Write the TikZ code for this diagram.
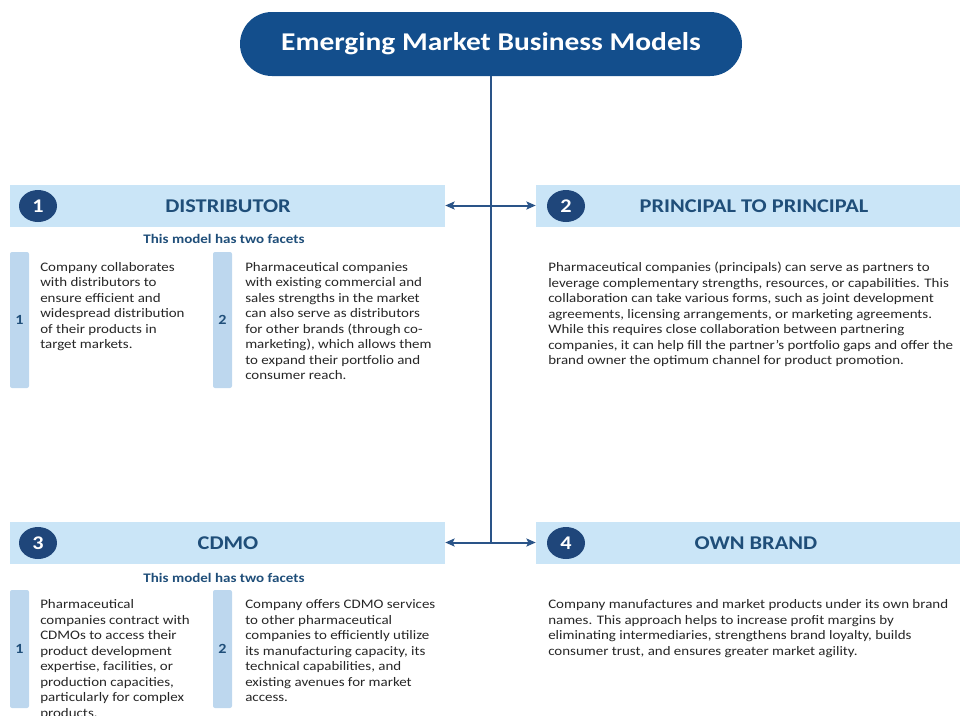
\documentclass[tikz,border=0pt]{standalone}
\usepackage{fontspec}
\setmainfont[FakeStretch=1.15]{Carlito}
\usetikzlibrary{arrows.meta,shapes.geometric}
\definecolor{titleblue}{HTML}{134E8C}
\definecolor{navy}{HTML}{1F467A}
\definecolor{headtext}{HTML}{1F4E79}
\definecolor{barblue}{HTML}{CAE5F7}
\definecolor{facetblue}{HTML}{BDD7EE}
\definecolor{linkblue}{HTML}{2A5488}
\definecolor{bodytext}{HTML}{262626}
\tikzset{
  hbar/.style={fill=barblue, draw=none, minimum height=31.5pt, inner sep=0pt},
  numcirc/.style={ellipse, fill=navy, text=white, font=\fontsize{14.5}{16}\selectfont\bfseries, minimum width=28.5pt, minimum height=24pt, inner sep=0pt},
  htext/.style={text=headtext, font=\fontsize{14.6}{16}\selectfont\bfseries, inner sep=0pt},
  facetbar/.style={fill=facetblue, rounded corners=1.5pt, draw=none},
  facetnum/.style={text=headtext, font=\fontsize{10.5}{12}\selectfont\bfseries, inner sep=0pt},
  subhead/.style={text=headtext, font=\fontsize{9.8}{11}\selectfont\bfseries, inner sep=0pt},
  body/.style={text=bodytext, font=\fontsize{9.75}{11.6}\selectfont, align=left, anchor=north west, inner sep=0pt},
  link/.style={draw=linkblue, line width=2pt},
  dlink/.style={draw=linkblue, line width=1.5pt, {Stealth[length=7pt,width=6pt,inset=1.5pt]}-{Stealth[length=7pt,width=6pt,inset=1.5pt]}},
}
\begin{document}
\begin{tikzpicture}[x=0.75pt,y=-0.75pt]
\useasboundingbox (0,0) rectangle (960,715);
% title
\node[fill=titleblue, rounded corners=24pt, minimum width=376.5pt, minimum height=48pt, inner sep=0pt,
  text=white, font=\fontsize{19.2}{22}\selectfont\bfseries] (title) at (491,44) {Emerging Market Business Models};
% header bars
\node[hbar, minimum width=326.25pt] (h1) at (227.5,205.5) {};
\node[hbar, minimum width=318pt] (h2) at (748,205.5) {};
\node[hbar, minimum width=326.25pt] (h3) at (227.5,542.5) {};
\node[hbar, minimum width=318pt] (h4) at (748,542.5) {};
% circles
\node[numcirc] (c1) at (38,206) {1};
\node[numcirc] (c2) at (566,206) {2};
\node[numcirc] (c3) at (38,543) {3};
\node[numcirc] (c4) at (566,543) {4};
% header texts
\node[htext] (t1) at (228,206) {DISTRIBUTOR};
\node[htext] (t2) at (754,206) {PRINCIPAL TO PRINCIPAL};
\node[htext] (t3) at (228,543) {CDMO};
\node[htext] (t4) at (756,543) {OWN BRAND};
% connectors
\coordinate (j2) at (491,543);
\draw[link] (title.south) -- (j2);
\draw[dlink] (h1.east) -- (h2.west);
\draw[dlink] (h3.east) -- (h4.west);
% distributor facets
\node[subhead] (s1) at (224,239) {This model has two facets};
\node[facetbar, minimum width=14.25pt, minimum height=102pt, inner sep=0pt] (f11) at (19.5,320) {};
\node[facetbar, minimum width=14.25pt, minimum height=102pt, inner sep=0pt] (f12) at (222.5,320) {};
\node[facetnum] at (f11) {1};
\node[facetnum] at (f12) {2};
\node[body] (d1) at (40,262) {Company collaborates\\with distributors to\\ensure efficient and\\widespread distribution\\of their products in\\target markets.};
\node[body] (d2) at (245,262) {Pharmaceutical companies\\with existing commercial and\\sales strengths in the market\\can also serve as distributors\\for other brands (through co-\\marketing), which allows them\\to expand their portfolio and\\consumer reach.};
% principal to principal
\node[body] (p1) at (548,262) {Pharmaceutical companies (principals) can serve as partners to\\leverage complementary strengths, resources, or capabilities. This\\collaboration can take various forms, such as joint development\\agreements, licensing arrangements, or marketing agreements.\\While this requires close collaboration between partnering\\companies, it can help fill the partner’s portfolio gaps and offer the\\brand owner the optimum channel for product promotion.};
% CDMO facets
\node[subhead] (s3) at (224,578) {This model has two facets};
\node[facetbar, minimum width=14.25pt, minimum height=88.5pt, inner sep=0pt] (f31) at (19.5,649) {};
\node[facetbar, minimum width=14.25pt, minimum height=88.5pt, inner sep=0pt] (f32) at (222.5,649) {};
\node[facetnum] at (f31) {1};
\node[facetnum] at (f32) {2};
\node[body] (m1) at (40,599.5) {Pharmaceutical\\companies contract with\\CDMOs to access their\\product development\\expertise, facilities, or\\production capacities,\\particularly for complex\\products.};
\node[body] (m2) at (245,599.5) {Company offers CDMO services\\to other pharmaceutical\\companies to efficiently utilize\\its manufacturing capacity, its\\technical capabilities, and\\existing avenues for market\\access.};
% own brand
\node[body] (o1) at (548,599.5) {Company manufactures and market products under its own brand\\names. This approach helps to increase profit margins by\\eliminating intermediaries, strengthens brand loyalty, builds\\consumer trust, and ensures greater market agility.};
\end{tikzpicture}
\end{document}
